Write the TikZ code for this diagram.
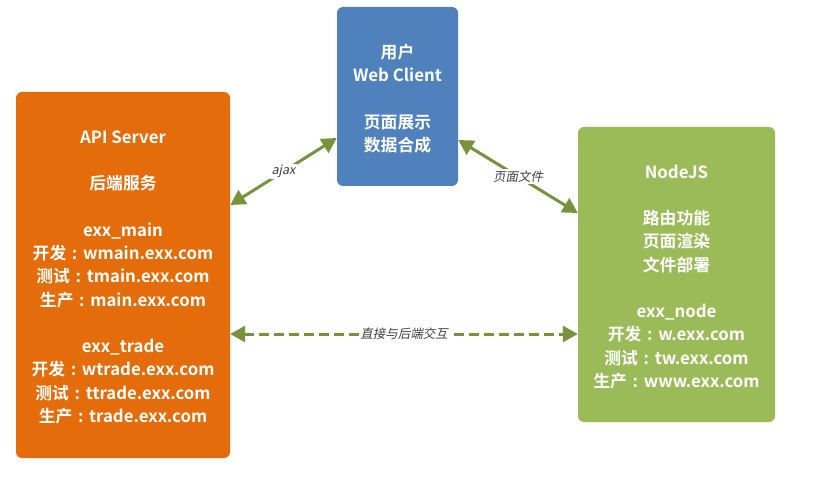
\documentclass[tikz,border=0pt]{standalone}
\usepackage{fontspec}
\setmainfont{Noto Sans CJK SC}[BoldFont={Noto Sans CJK SC Bold},ItalicFont={Noto Sans CJK SC},ItalicFeatures={FakeSlant=0.2}]
\usetikzlibrary{arrows.meta}
\definecolor{apiorange}{HTML}{E46C0A}
\definecolor{clientblue}{HTML}{4F81BD}
\definecolor{nodegreen}{HTML}{9BBB59}
\definecolor{arrowgreen}{HTML}{77933C}
\definecolor{labelgray}{HTML}{404040}
\newcommand{\cc}{\makebox[1em]{:}}
\tikzset{
  box/.style={rounded corners=6pt, draw=none, inner sep=0pt},
  boxtext/.style={text=white, align=center,
    font=\fontsize{16.8}{23.25}\selectfont\bfseries, inner sep=0pt},
  link/.style={arrowgreen, line width=3pt, {Triangle[length=15pt,width=16pt]}-{Triangle[length=15pt,width=16pt]}},
  lbl/.style={fill=white, text=labelgray, font=\fontsize{12.5}{14}\selectfont\itshape, inner sep=1.5pt}
}
\begin{document}
\begin{tikzpicture}[x=1pt,y=-1pt]
\useasboundingbox (0,0) rectangle (824,481);
\node[box, fill=apiorange, minimum width=214pt, minimum height=366pt] (api) at (123,275) {};
\node[boxtext] (apitext) at ([yshift=-2.5pt]api.center)
  {API Server\\[23.25pt]后端服务\\[23.25pt]exx\_main\\开发\cc wmain.exx.com\\测试\cc tmain.exx.com\\生产\cc main.exx.com\\[23.25pt]exx\_trade\\开发\cc wtrade.exx.com\\测试\cc ttrade.exx.com\\生产\cc trade.exx.com};
\node[box, fill=clientblue, minimum width=121pt, minimum height=179pt] (client) at (397.5,96.5) {};
\node[boxtext] (clienttext) at ([yshift=-2pt]client.center)
  {用户\\Web Client\\[23.25pt]页面展示\\数据合成};
\node[box, fill=nodegreen, minimum width=197pt, minimum height=295pt] (nodejs) at (676.5,274.5) {};
\node[boxtext] (nodetext) at ([yshift=-2.5pt]nodejs.center)
  {NodeJS\\[23.25pt]路由功能\\页面渲染\\文件部署\\[23.25pt]exx\_node\\开发\cc w.exx.com\\测试\cc tw.exx.com\\生产\cc www.exx.com};
\draw[link] ([yshift=70pt]api.east) -- node[lbl]{ajax} ([yshift=-41.5pt]client.west);
\draw[link] ([yshift=-43.5pt]client.east) -- node[lbl]{页面文件} ([yshift=61.5pt]nodejs.west);
\draw[link, dash pattern=on 10pt off 5pt] ([yshift=-59pt]api.east) -- node[lbl]{直接与后端交互} ([yshift=-59.5pt]nodejs.west);
\end{tikzpicture}
\end{document}
